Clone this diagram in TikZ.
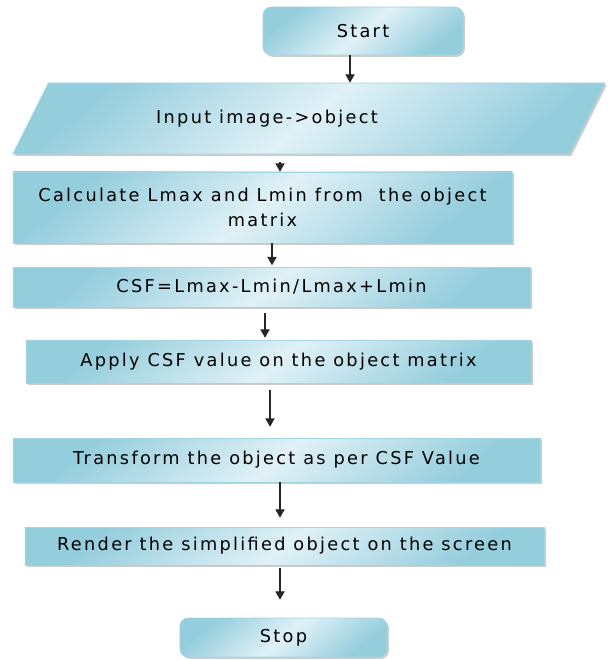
\documentclass[tikz,border=0pt]{standalone}
\usepackage{fontspec}
\setmainfont{DejaVu Sans}[LetterSpace=13]
\usepackage{tikz}
\usetikzlibrary{positioning, arrows.meta, shapes.geometric, shadows}
\usepackage{xcolor}
\definecolor{boxlight}{RGB}{224,241,247}
\definecolor{boxdark}{RGB}{148,205,220}
\definecolor{boxedge}{RGB}{165,212,225}

\begin{document}
\begin{tikzpicture}[x=0.025cm, y=-0.025cm,
    box/.style={draw=boxedge, line width=0.4pt, top color=boxdark, bottom color=boxdark,
        middle color=boxlight, shading angle=40, align=center, inner sep=0pt,
        drop shadow={shadow xshift=1.3pt, shadow yshift=-1.3pt, fill=black!40},
        font=\fontsize{12.6}{17.5}\selectfont},
    term/.style={box, rounded corners=0.2cm},
    io/.style={box, trapezium, trapezium left angle=25.8, trapezium right angle=154.2,
        trapezium stretches body},
    flow/.style={-{Triangle[length=6pt, width=6.5pt]}, line width=1pt, black!85}]
    \useasboundingbox (0,0) rectangle (610,660);

    % Start and input
    \node[term, minimum width=5cm, minimum height=1.2cm] (start) at (363,31) {Start};
    \node[io, minimum width=14.8cm, minimum height=1.775cm] (input) at (309,118.5)
        {Input image->object\hspace*{2.1cm}};

    % Processing steps
    \node[box, minimum width=12.475cm, minimum height=1.775cm] (calc) at (262.5,207.5)
        {Calculate Lmax and Lmin from\ \ the object\\matrix};
    \node[box, minimum width=12.925cm, minimum height=1cm] (csf) at (271.5,287)
        {CSF=Lmax-Lmin/Lmax+Lmin};
    \node[box, minimum width=12.625cm, minimum height=1.075cm] (apply) at (278.5,361.5)
        {Apply CSF value on the object matrix};
    \node[box, minimum width=13.175cm, minimum height=1.1cm] (transform) at (276.5,460)
        {Transform the object as per CSF Value};
    \node[box, minimum width=12.975cm, minimum height=0.95cm] (render) at (284.5,546)
        {Render the simplified object on the screen};

    % End
    \node[term, minimum width=5.175cm, minimum height=0.975cm] (stop) at (283.5,637.5) {Stop};

    % Arrows
    \draw[flow] (start.south -| 350,0) -- (input.north -| 350,0);
    \draw[flow, shorten <=5.7pt] (input.south -| 280,0) -- (calc.north -| 280,0);
    \draw[flow, shorten >=1pt] (calc.south -| 272,0) -- (csf.north -| 272,0);
    \draw[flow, shorten <=4.3pt, shorten >=1.4pt] (csf.south -| 265,0) -- (apply.north -| 265,0);
    \draw[flow, shorten <=5pt, shorten >=7.8pt] (apply.south -| 270,0) -- (transform.north -| 270,0);
    \draw[flow, shorten >=6.4pt] (transform.south -| 280,0) -- (render.north -| 280,0);
    \draw[flow, shorten <=2pt, shorten >=12.8pt] (render.south -| 280,0) -- (stop.north -| 280,0);
\end{tikzpicture}
\end{document}
